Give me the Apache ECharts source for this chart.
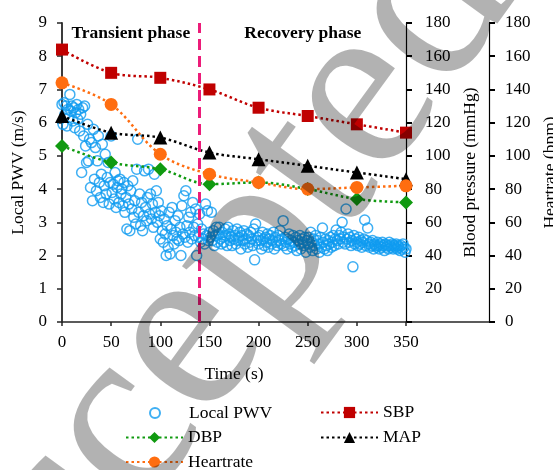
<!DOCTYPE html>
<html>
<head>
<meta charset="utf-8">
<script src="https://cdn.jsdelivr.net/npm/echarts@6/dist/echarts.min.js"></script>
<style>
  html, body { margin: 0; padding: 0; background: #fff; }
  #chart { width: 553px; height: 470px; }
</style>
</head>
<body>
<div id="chart"></div>
<script>
// Time stamps (s) of the blood-pressure / heart-rate readings
const readingTimes = [0, 50, 100, 150, 200, 250, 300, 350];
const sbp = [164, 150, 147, 140, 129, 124, 119, 114];
const dbp = [106, 96, 92, 83, 84, 80, 74, 72];
const map = [124, 114, 111, 102, 98, 94, 90, 86];
const heartrate = [144, 131, 101, 89, 84, 80, 81, 82];

// Beat-to-beat local PWV (m/s), one value per second from t = 0 s
const PWV_STEP_S = 1;
const localPwv = [
  6.55, 5.95, 6.6, 6.25, 6.5, 5.9, 6.4, 6.15, 6.85, 6.35,
  6.5, 6.05, 6.45, 5.85, 6.3, 6.55, 6.1, 6.4, 5.75, 6.25,
  4.5, 6.45, 5.6, 6.5, 5.3, 4.8, 5.95, 4.85, 5.5, 4.05,
  5.4, 3.65, 5.8, 4.3, 5.25, 3.95, 4.85, 5.6, 4.2, 3.75,
  4.45, 5.35, 3.6, 4.1, 5.05, 3.85, 4.35, 4.8, 3.55, 4.2,
  5.6, 3.9, 4.15, 3.7, 4.5, 3.45, 4.05, 4.25, 3.6, 4.3,
  3.85, 4.0, 3.5, 4.2, 3.3, 3.75, 2.8, 4.1, 3.55, 2.75,
  3.95, 3.4, 4.25, 3.15, 3.65, 2.95, 4.6, 5.5, 3.3, 3.85,
  2.9, 3.6, 2.75, 3.2, 4.55, 3.45, 3.05, 3.75, 4.6, 3.25,
  3.85, 3.1, 3.55, 2.85, 4.45, 3.3, 3.95, 3.0, 3.6, 3.2,
  2.5, 3.35, 2.75, 2.4, 3.1, 2.65, 2.0, 2.9, 2.25, 3.3,
  2.05, 2.8, 3.45, 2.6, 2.35, 3.05, 2.7, 2.5, 3.2, 2.45,
  2.85, 2.0, 3.5, 2.65, 3.8, 2.55, 3.95, 2.9, 2.4, 3.15,
  2.7, 3.3, 2.5, 3.6, 2.85, 2.6, 3.4, 2.0, 2.95, 2.55,
  3.25, 2.4, 2.8, 2.5, 2.65, 2.35, 3.55, 2.6, 3.35, 2.45,
  2.7, 2.55, 3.3, 2.45, 2.75, 2.3, 2.6, 2.85, 2.4, 2.65,
  2.85, 2.5, 2.35, 2.7, 2.55, 2.4, 2.8, 2.6, 2.3, 2.85,
  2.65, 2.45, 2.55, 2.3, 2.75, 2.5, 2.6, 2.35, 2.8, 2.45,
  2.55, 2.7, 2.2, 2.6, 2.45, 2.75, 2.35, 2.5, 2.65, 2.25,
  2.6, 2.4, 2.7, 2.5, 2.3, 2.8, 1.87, 2.95, 2.45, 2.55,
  2.35, 2.6, 2.45, 2.2, 2.7, 2.5, 2.3, 2.55, 2.4, 2.65,
  2.25, 2.5, 2.6, 2.35, 2.45, 2.7, 2.2, 2.55, 2.4, 2.3,
  2.6, 2.45, 2.75, 2.35, 2.5, 3.05, 2.3, 2.55, 2.4, 2.2,
  2.5, 2.65, 2.35, 2.45, 2.25, 2.6, 2.4, 2.3, 2.55, 2.15,
  2.45, 2.35, 2.6, 2.2, 2.5, 2.4, 2.3, 2.55, 2.1, 2.45,
  2.35, 2.55, 2.25, 2.7, 2.4, 2.15, 2.5, 2.3, 2.6, 2.2,
  2.45, 2.35, 2.1, 2.55, 2.25, 2.83, 2.4, 2.2, 2.5, 2.3,
  2.15, 2.45, 2.35, 2.55, 2.25, 2.4, 2.6, 2.3, 2.5, 2.77,
  2.45, 2.35, 2.6, 2.5, 2.7, 3.0, 2.4, 2.55, 2.35, 3.4,
  2.5, 2.65, 2.4, 2.55, 2.3, 2.45, 1.66, 2.6, 2.35, 2.5,
  2.4, 2.3, 2.55, 2.35, 2.45, 2.25, 2.4, 2.5, 3.07, 2.3,
  2.45, 2.83, 2.35, 2.25, 2.4, 2.3, 2.45, 2.2, 2.35, 2.3,
  2.25, 2.4, 2.3, 2.2, 2.35, 2.25, 2.4, 2.3, 2.15, 2.35,
  2.25, 2.3, 2.2, 2.4, 2.3, 2.25, 2.35, 2.2, 2.3, 2.25,
  2.35, 2.2, 2.3, 2.25, 2.15, 2.3, 2.2, 2.35, 2.25, 2.1,
  2.2
];

// Boundary between the two exercise phases (s)
const PHASE_SPLIT = 140;
const phaseNames = ['Transient phase', 'Recovery phase'];

const FONT = '"Liberation Serif", "Times New Roman", serif';
const C_PWV = '#0f9bf0';
const C_SBP = '#c00000';
const C_DBP = '#109a10';
const C_MAP = '#000000';
const C_HR = '#ff6d10';
const C_SPLIT = '#ec1c79';

const pair = (xs, ys) => xs.map((x, i) => [x, ys[i]]);
const pwvData = localPwv.map((v, i) => [i * PWV_STEP_S, v]);

const labelStyle = { fontFamily: FONT, fontSize: 17, color: '#000' };
const nameStyle = { fontFamily: FONT, fontSize: 17.5, color: '#000' };

function lineSeries(name, values, color, symbol, size, yAxisIndex) {
  return {
    name, type: 'line', xAxisIndex: 0, yAxisIndex,
    data: pair(readingTimes, values),
    smooth: 0.35,
    symbol, symbolSize: size,
    itemStyle: { color },
    lineStyle: { color, width: 2.5, type: [2.5, 3] },
    z: 3
  };
}

// One legend block per entry so the two columns line up
function legendEntry(name, left, top) {
  return {
    data: [name], left, top, padding: 0,
    itemWidth: 57, itemHeight: 14,
    textStyle: nameStyle, selectedMode: false
  };
}

const chart = echarts.init(document.getElementById('chart'), null, { renderer: 'canvas' });

chart.setOption({
  animation: false,
  backgroundColor: '#fff',
  textStyle: { fontFamily: FONT },
  grid: [
    { left: 62, right: 147, top: 23, bottom: 148, outerBoundsMode: 'none', containLabel: false },
    { left: 406, right: 64, top: 23, bottom: 148, outerBoundsMode: 'none', containLabel: false }
  ],
  xAxis: [
    {
      gridIndex: 0, type: 'value', min: 0, max: 350, interval: 50,
      name: 'Time (s)', nameLocation: 'middle', nameGap: 43, nameTextStyle: nameStyle,
      axisLine: { lineStyle: { color: '#262626', width: 1.5 } },
      axisTick: { show: true, length: 4, lineStyle: { color: '#262626', width: 1.5 } },
      axisLabel: Object.assign({ margin: 12 }, labelStyle),
      splitLine: { show: false }
    },
    {
      gridIndex: 1, type: 'value', min: 0, max: 1,
      axisLine: { lineStyle: { color: '#262626', width: 1.5 } },
      axisTick: { show: false }, axisLabel: { show: false }, splitLine: { show: false }
    }
  ],
  yAxis: [
    {
      gridIndex: 0, type: 'value', min: 0, max: 9, interval: 1, position: 'left',
      name: 'Local PWV (m/s)', nameLocation: 'middle', nameRotate: 90, nameGap: 35,
      nameTextStyle: nameStyle,
      axisLine: { show: true, lineStyle: { color: '#262626', width: 1.8 } },
      axisTick: { show: true, length: 5, lineStyle: { color: '#262626', width: 1.5 } },
      axisLabel: Object.assign({ margin: 15 }, labelStyle),
      splitLine: { show: false }
    },
    {
      gridIndex: 0, type: 'value', min: 0, max: 180, interval: 20, position: 'right', offset: 0,
      name: 'Blood pressure (mmHg)', nameLocation: 'middle', nameRotate: 90, nameGap: 53,
      nameTextStyle: nameStyle,
      axisLine: { show: true, lineStyle: { color: '#000', width: 1.2 } },
      axisTick: { show: true, length: 6, lineStyle: { color: '#000', width: 2 } },
      axisLabel: Object.assign({ margin: 19, formatter: v => (v === 0 ? '' : v) }, labelStyle),
      splitLine: { show: false }
    },
    {
      gridIndex: 0, type: 'value', min: 0, max: 180, interval: 20, position: 'right', offset: 83,
      name: 'Heartrate (bpm)', nameLocation: 'middle', nameRotate: 90, nameGap: 47,
      nameTextStyle: nameStyle,
      axisLine: { show: true, lineStyle: { color: '#000', width: 1.2 } },
      axisTick: { show: true, length: 6, lineStyle: { color: '#000', width: 2 } },
      axisLabel: Object.assign({ margin: 16 }, labelStyle),
      splitLine: { show: false }
    },
    { gridIndex: 1, type: 'value', show: false }
  ],
  legend: [
    {
      data: ['Local PWV'], left: 149, top: 404, padding: 0, itemWidth: 10, itemHeight: 10,
      textStyle: Object.assign({ padding: [0, 0, 0, 24] }, nameStyle), selectedMode: false
    },
    legendEntry('DBP', 125, 428.5),
    legendEntry('Heartrate', 125, 453),
    legendEntry('SBP', 320, 403.5),
    legendEntry('MAP', 320, 428.5)
  ],
  series: [
    {
      name: 'Local PWV', type: 'scatter', xAxisIndex: 0, yAxisIndex: 0,
      data: pwvData, symbol: 'circle', symbolSize: 10,
      itemStyle: { color: 'rgba(0,0,0,0)', borderColor: C_PWV, borderWidth: 1.5 },
      z: 2,
      markLine: {
        silent: true, symbol: 'none',
        label: { show: false },
        lineStyle: { color: C_SPLIT, width: 3, type: [11, 6] },
        data: [{ xAxis: PHASE_SPLIT }]
      },
      markArea: {
        silent: true,
        itemStyle: { color: 'rgba(0,0,0,0)' },
        label: {
          position: 'insideTop', distance: 1, fontFamily: FONT, fontSize: 17.5,
          fontWeight: 'bold', color: '#000'
        },
        data: [
          [{ name: phaseNames[0], xAxis: 0 }, { xAxis: PHASE_SPLIT }],
          [{ name: phaseNames[1], xAxis: PHASE_SPLIT }, { xAxis: 350 }]
        ]
      }
    },
    lineSeries('SBP', sbp, C_SBP, 'rect', 12, 1),
    lineSeries('DBP', dbp, C_DBP, 'diamond', 14, 1),
    lineSeries('MAP', map, C_MAP, 'triangle', 14, 1),
    lineSeries('Heartrate', heartrate, C_HR, 'circle', 13, 2)
  ],
  graphic: [
    {
      // "Accepted" stamp laid diagonally over the figure
      type: 'text', silent: true, z: 100,
      x: -78, y: 706, rotation: 54 * Math.PI / 180,
      style: {
        text: 'Accepted',
        font: '245px "Liberation Serif"',
        fill: 'rgba(0,0,0,0.3)',
        align: 'left', verticalAlign: 'middle'
      }
    }
  ]
});
</script>
</body>
</html>
